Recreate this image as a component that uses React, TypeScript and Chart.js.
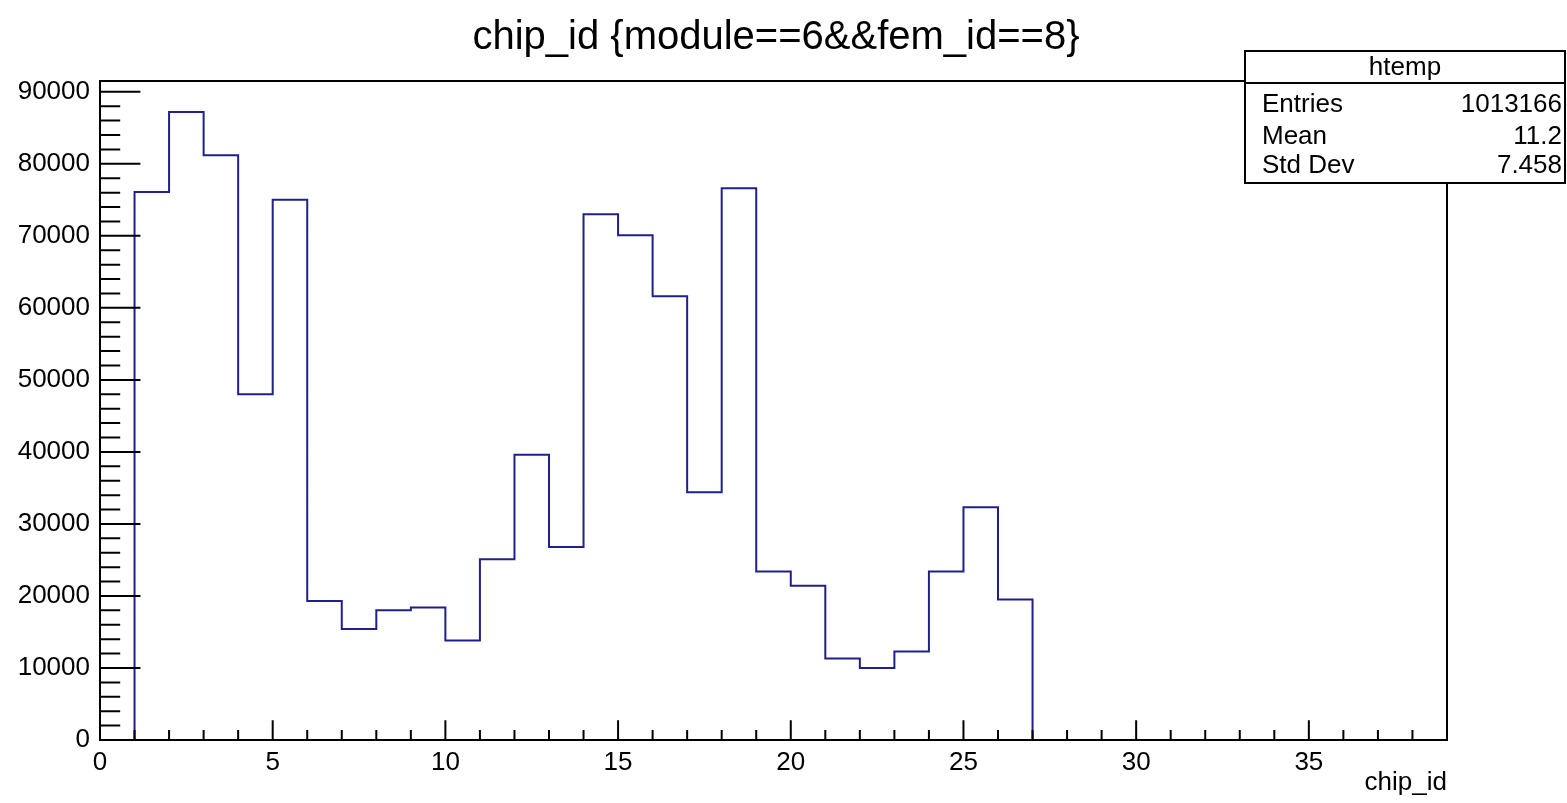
import React, { useEffect, useRef } from "react";
import { Chart, registerables } from "chart.js";

Chart.register(...registerables);

// ---------- data ----------
const titleText = "chip_id {module==6&&fem_id==8}";
const xAxisTitle = "chip_id";
const histName = "htemp";

// low edges of the unit-width bins (chip_id)
const binLowEdges = [
  0, 1, 2, 3, 4, 5, 6, 7, 8, 9, 10, 11, 12, 13, 14, 15, 16, 17, 18, 19,
  20, 21, 22, 23, 24, 25, 26, 27, 28, 29, 30, 31, 32, 33, 34, 35, 36, 37, 38,
];
// entries per bin
const binCounts = [
  0, 76100, 87200, 81200, 48000, 75000, 19300, 15400, 18000, 18400, 13800,
  25100, 39600, 26800, 73000, 70100, 61600, 34400, 76600, 23400, 21400, 11300,
  10000, 12300, 23400, 32300, 19500, 0, 0, 0, 0, 0, 0, 0, 0, 0, 0, 0, 0,
];
const xTickValues = [0, 5, 10, 15, 20, 25, 30, 35];
const yTickValues = [0, 10000, 20000, 30000, 40000, 50000, 60000, 70000, 80000, 90000];
const xMin = 0;
const xMax = 39;
const yMin = 0;
const yMax = 91500;
const xMinorStep = 1;
const yMinorStep = 2000;

const statsLabels = ["Entries", "Mean", "Std Dev"];
const statsValues = ["1013166", "11.2", "7.458"];

// ---------- style ----------
const FONT = '"Liberation Sans", Arial, Helvetica, sans-serif';
const LINE_COLOR = "#20208a";

const rootDecorations = {
  id: "rootDecorations",
  afterDatasetsDraw(chart: any) {
    const { ctx, chartArea: a, scales } = chart;
    const x = scales.x;
    const y = scales.y;
    const w = a.right - a.left;
    const h = a.bottom - a.top;
    ctx.save();
    ctx.strokeStyle = "#000";
    ctx.lineWidth = 2;
    ctx.strokeRect(a.left, a.top, w, h);
    ctx.beginPath();
    // y ticks (inward, left axis)
    for (let v = yMin; v <= yMax; v += yMinorStep) {
      const py = y.getPixelForValue(v);
      const len = yTickValues.includes(v) ? 0.03 * w : 0.015 * w;
      ctx.moveTo(a.left, py);
      ctx.lineTo(a.left + len, py);
    }
    // x ticks (inward, bottom axis)
    for (let v = xMin; v <= xMax; v += xMinorStep) {
      const px = x.getPixelForValue(v);
      const len = xTickValues.includes(v) ? 0.03 * h : 0.015 * h;
      ctx.moveTo(px, a.bottom);
      ctx.lineTo(px, a.bottom - len);
    }
    ctx.stroke();
    ctx.restore();
  },
  afterDraw(chart: any) {
    const { ctx, chartArea: a } = chart;
    ctx.save();
    ctx.fillStyle = "#000";
    // title
    ctx.font = `40px ${FONT}`;
    ctx.textAlign = "center";
    ctx.textBaseline = "alphabetic";
    ctx.fillText(titleText, 776, 49);
    // x axis title
    ctx.font = `26px ${FONT}`;
    ctx.textAlign = "right";
    ctx.fillText(xAxisTitle, a.right, 790);
    // stats box
    const bx = 1245, by = 51, bw = 320, bh = 132;
    ctx.fillStyle = "#fff";
    ctx.fillRect(bx, by, bw, bh);
    ctx.strokeStyle = "#000";
    ctx.lineWidth = 2;
    ctx.strokeRect(bx, by, bw, bh);
    ctx.beginPath();
    ctx.moveTo(bx, 83);
    ctx.lineTo(bx + bw, 83);
    ctx.stroke();
    ctx.fillStyle = "#000";
    ctx.font = `26px ${FONT}`;
    ctx.textAlign = "center";
    ctx.fillText(histName, bx + bw / 2, 75);
    const baselines = [112, 144, 173];
    statsLabels.forEach((lab, i) => {
      ctx.textAlign = "left";
      ctx.fillText(lab, 1262, baselines[i]);
      ctx.textAlign = "right";
      ctx.fillText(statsValues[i], 1562, baselines[i]);
    });
    ctx.restore();
  },
};

export default function App() {
  const canvasRef = useRef<HTMLCanvasElement | null>(null);

  useEffect(() => {
    document.body.style.margin = "0";
    const canvas = canvasRef.current;
    if (!canvas) return;
    const points = binLowEdges.map((e, i) => ({ x: e, y: binCounts[i] }));
    points.push({ x: xMax, y: 0 });

    const chart = new Chart(canvas, {
      type: "line",
      data: {
        datasets: [
          {
            label: histName,
            data: points,
            stepped: "before",
            borderColor: LINE_COLOR,
            borderWidth: 2,
            pointRadius: 0,
            fill: false,
          },
        ],
      },
      options: {
        responsive: false,
        animation: false,
        events: [],
        layout: { padding: { top: 81, right: 120, left: 0, bottom: 0 } },
        plugins: {
          legend: { display: false },
          title: { display: false },
          tooltip: { enabled: false },
        },
        scales: {
          x: {
            type: "linear",
            min: xMin,
            max: xMax,
            grid: { display: false, drawTicks: false, tickLength: 0 },
            border: { display: false },
            ticks: {
              autoSkip: false,
              maxRotation: 0,
              padding: 7,
              color: "#000",
              font: { family: FONT, size: 26 },
              callback: (v: any) => String(v),
            },
            afterBuildTicks: (s: any) => {
              s.ticks = xTickValues.map((v) => ({ value: v }));
            },
            afterFit: (s: any) => {
              s.height = 63;
            },
          },
          y: {
            type: "linear",
            min: yMin,
            max: yMax,
            grid: { display: false, drawTicks: false, tickLength: 0 },
            border: { display: false },
            ticks: {
              autoSkip: false,
              padding: 10,
              color: "#000",
              font: { family: FONT, size: 26 },
              callback: (v: any) => String(v),
            },
            afterBuildTicks: (s: any) => {
              s.ticks = yTickValues.map((v) => ({ value: v }));
            },
            afterFit: (s: any) => {
              s.width = 100;
            },
          },
        },
      },
      plugins: [rootDecorations],
    });
    return () => chart.destroy();
  }, []);

  return (
    <div style={{ width: 1567, height: 803, background: "#fff" }}>
      <canvas ref={canvasRef} width={1567} height={803} style={{ display: "block" }} />
    </div>
  );
}
